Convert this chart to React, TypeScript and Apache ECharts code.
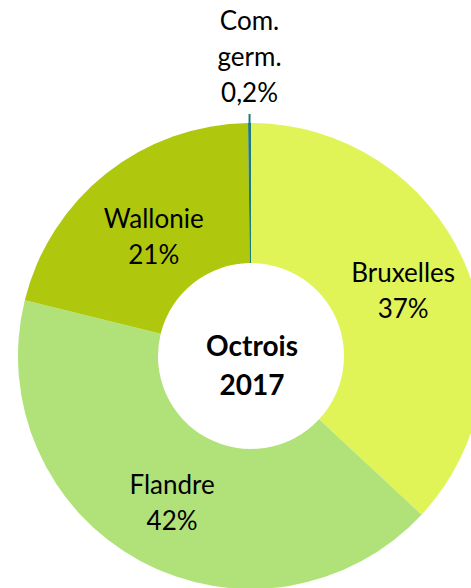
import React, { useEffect, useRef } from "react";
import * as echarts from "echarts";

const categories = ["Bruxelles", "Flandre", "Wallonie", "Com.\ngerm."];
const values = [37, 42, 21, 0.2];
const valueLabels = ["37%", "42%", "21%", "0,2%"];
const colors = ["#E0F457", "#B1E27A", "#AFC80D", "#1F7A7A"];
const centerTitle = ["Octrois", "2017"];

export default function App() {
  const ref = useRef<HTMLDivElement>(null);
  useEffect(() => {
    if (!ref.current) return;
    const chart = echarts.init(ref.current, null, { renderer: "svg" });
    const font = "Lato, 'Open Sans', sans-serif";
    chart.setOption({
      animation: false,
      backgroundColor: "#ffffff",
      color: colors,
      graphic: [
        {
          type: "text",
          x: 252,
          y: 364,
          style: {
            text: centerTitle.join("\n"),
            fontFamily: font,
            fontWeight: "bold",
            fontSize: 28,
            lineHeight: 39,
            fill: "#000",
            align: "center",
            verticalAlign: "middle",
          },
        },
      ],
      series: [
        {
          type: "pie",
          center: [251, 356],
          radius: [93, 233],
          startAngle: 90,
          clockwise: true,
          avoidLabelOverlap: false,
          itemStyle: { borderWidth: 0 },
          label: {
            show: true,
            position: "inside",
            fontFamily: font,
            fontSize: 26,
            lineHeight: 36,
            color: "#000",
            formatter: (p: any) => `${p.name}\n${valueLabels[p.dataIndex]}`,
          },
          labelLine: { show: false },
          labelLayout: (params: any) => {
            if (params.dataIndex !== 3) return {};
            const r = params.rect;
            const cx = r.x + r.width / 2;
            return {
              x: cx,
              y: r.y - 13,
              align: "center",
              verticalAlign: "bottom",
              labelLinePoints: [
                [cx, r.y + 1],
                [cx, r.y - 9],
              ],
            };
          },
          data: categories.map((name, i) => ({
            name,
            value: values[i],
            itemStyle: { color: colors[i] },
            ...(i === 2 ? { label: { offset: [6, 10] } } : {}),
            ...(i === 3
              ? {
                  label: { position: "outside" },
                  labelLine: {
                    show: true,
                    length: 9,
                    length2: 0,
                    lineStyle: { color: colors[i], width: 2 },
                  },
                }
              : {}),
          })),
        },
      ],
    });
    return () => chart.dispose();
  }, []);
  return (
    <div
      ref={ref}
      style={{ position: "fixed", left: 0, top: 0, width: 471, height: 588 }}
    />
  );
}
